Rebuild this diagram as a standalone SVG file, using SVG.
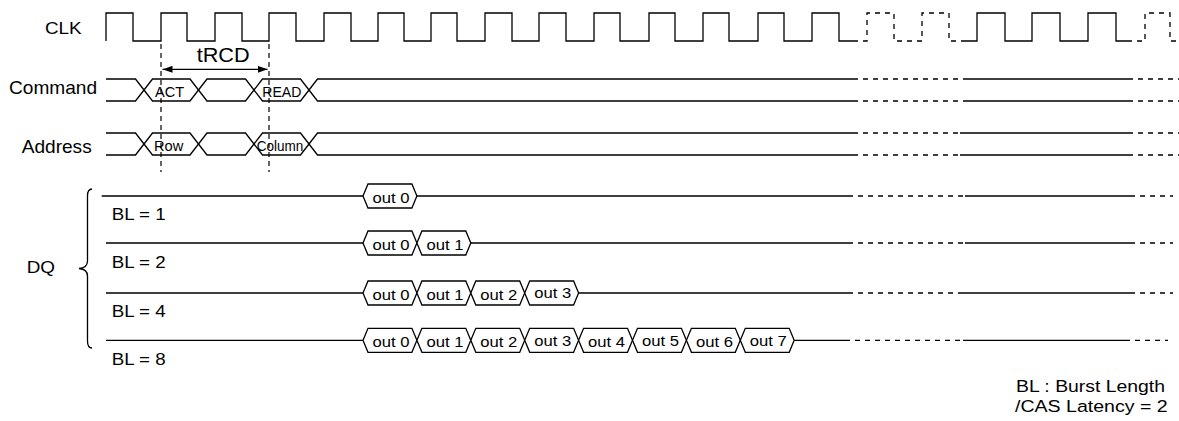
<svg xmlns="http://www.w3.org/2000/svg" width="1179" height="421" viewBox="0 0 1179 421">
<style>
.s{fill:none;stroke:#000;stroke-width:1.3}
.d{fill:none;stroke:#000;stroke-width:1.3;stroke-dasharray:5 5}
.c{fill:#fff;stroke:#000;stroke-width:1.3}
.vd{fill:none;stroke:#000;stroke-width:1.2;stroke-dasharray:5 4}
text{font-family:"Liberation Sans",Arial,sans-serif;fill:#000}
.o{font-size:15.5px}
</style>
<defs>
<marker id="ah" viewBox="0 0 10 7" refX="10" refY="3.5" markerWidth="10" markerHeight="7" markerUnits="userSpaceOnUse" orient="auto-start-reverse">
<path d="M0,0 L10,3.5 L0,7 z" fill="#000"/>
</marker>
</defs>
<rect width="1179" height="421" fill="#fff"/>

<g id="clk">
<text x="45" y="34.3" font-size="17" textLength="36.7" lengthAdjust="spacingAndGlyphs">CLK</text>
<path class="s" d="M106,41 V13 H133 V41 H161 V13 H187 V41 H215 V13 H242 V41 H269 V13 H296 V41 H324 V13 H351 V41 H378 V13 H404 V41 H431 V13 H457 V41 H485 V13 H512 V41 H539 V13 H566 V41 H594 V13 H620 V41 H649 V13 H675 V41 H703 V13 H729 V41 H758 V13 H784 V41 H812 V13 H839 V41 H853"/>
<path class="d" d="M853,41 H867 V13 H894 V41 H922 V13 H949 V41 H966"/>
<path class="s" d="M966,41 H977 V13 H1005 V41 H1032 V13 H1060 V41 H1088 V13 H1116 V41 H1127"/>
<path class="d" d="M1127,41 H1145 V13 H1170 V41 H1179"/>
</g>

<g id="command">
<text x="9" y="94.3" font-size="18.5" textLength="88" lengthAdjust="spacingAndGlyphs">Command</text>
<path class="s" d="M106,79 H135.5 L152.5,101 H190 L207,79 H245.5 L262.5,101 H300.5 L317.5,79 H853"/>
<path class="s" d="M106,101 H135.5 L152.5,79 H190 L207,101 H245.5 L262.5,79 H300.5 L317.5,101 H853"/>
<path class="d" d="M853,79 H965 M853,101 H965"/>
<path class="s" d="M965,79 H1128 M965,101 H1128"/>
<path class="d" d="M1128,79 H1179 M1128,101 H1179"/>
<text x="155" y="97.3" font-size="14.5" textLength="29" lengthAdjust="spacingAndGlyphs">ACT</text>
<text x="262.3" y="97.3" font-size="14.5" textLength="39" lengthAdjust="spacingAndGlyphs">READ</text>
</g>

<g id="address">
<text x="21.7" y="152.7" font-size="18.5" textLength="70" lengthAdjust="spacingAndGlyphs">Address</text>
<path class="s" d="M106,133 H135.5 L152.5,155 H190 L207,133 H245.5 L262.5,155 H300.5 L317.5,133 H853"/>
<path class="s" d="M106,155 H135.5 L152.5,133 H190 L207,155 H245.5 L262.5,133 H300.5 L317.5,155 H853"/>
<path class="d" d="M853,133 H960 M853,155 H960"/>
<path class="s" d="M960,133 H1128 M960,155 H1128"/>
<path class="d" d="M1128,133 H1179 M1128,155 H1179"/>
<text x="154" y="150.7" font-size="14" textLength="29.3" lengthAdjust="spacingAndGlyphs">Row</text>
<text x="256.7" y="150.7" font-size="14" textLength="46.6" lengthAdjust="spacingAndGlyphs">Column</text>
</g>

<g id="dq-label">
<text x="26.7" y="273.3" font-size="16.5" textLength="28.3" lengthAdjust="spacingAndGlyphs">DQ</text>
<path class="s" d="M92,189 C88.5,189 87.5,191.5 87.5,196 L87.5,261 C87.5,265.5 85,268 79,268.5 C85,269 87.5,271.5 87.5,276 L87.5,341 C87.5,345.5 88.5,348 92,348"/>
</g>

<g id="dq-bl1">
<text x="111.7" y="220" font-size="16.5" textLength="54" lengthAdjust="spacingAndGlyphs">BL = 1</text>
<path class="s" d="M101.7,196 H363 M416.9,196 H848"/>
<path class="d" d="M848,196 H965"/>
<path class="s" d="M965,196 H1130"/>
<path class="d" d="M1130,196 H1173"/>
<path class="c" d="M363,196 L368,184 H411.9 L416.9,196 L411.9,208 H368 Z"/>
<text class="o" x="372.5" y="202.7" textLength="37" lengthAdjust="spacingAndGlyphs">out 0</text>
</g>

<g id="dq-bl2">
<text x="111.7" y="268.3" font-size="16.5" textLength="54" lengthAdjust="spacingAndGlyphs">BL = 2</text>
<path class="s" d="M106,243 H363 M470.8,243 H848"/>
<path class="d" d="M848,243 H965"/>
<path class="s" d="M965,243 H1130"/>
<path class="d" d="M1130,243 H1173"/>
<path class="c" d="M363,243 L368,231 H411.9 L416.9,243 L411.9,255 H368 Z"/>
<path class="c" d="M416.9,243 L421.9,231 H465.8 L470.8,243 L465.8,255 H421.9 Z"/>
<text class="o" x="372.5" y="249.7" textLength="37" lengthAdjust="spacingAndGlyphs">out 0</text>
<text class="o" x="426.4" y="249.7" textLength="37" lengthAdjust="spacingAndGlyphs">out 1</text>
</g>

<g id="dq-bl4">
<text x="111.7" y="316.7" font-size="16.5" textLength="54" lengthAdjust="spacingAndGlyphs">BL = 4</text>
<path class="s" d="M106,293 H363 M578.6,293 H848"/>
<path class="d" d="M848,293 H962"/>
<path class="s" d="M962,293 H1130"/>
<path class="d" d="M1130,293 H1173"/>
<path class="c" d="M363,293 L368,281 H411.9 L416.9,293 L411.9,305 H368 Z"/>
<path class="c" d="M416.9,293 L421.9,281 H465.8 L470.8,293 L465.8,305 H421.9 Z"/>
<path class="c" d="M470.8,293 L475.8,281 H519.7 L524.7,293 L519.7,305 H475.8 Z"/>
<path class="c" d="M524.7,293 L529.7,281 H573.6 L578.6,293 L573.6,305 H529.7 Z"/>
<text class="o" x="372.5" y="299.7" textLength="37" lengthAdjust="spacingAndGlyphs">out 0</text>
<text class="o" x="426.4" y="299.7" textLength="37" lengthAdjust="spacingAndGlyphs">out 1</text>
<text class="o" x="480.3" y="299.7" textLength="37" lengthAdjust="spacingAndGlyphs">out 2</text>
<text class="o" x="534.2" y="298.2" textLength="37" lengthAdjust="spacingAndGlyphs">out 3</text>
</g>

<g id="dq-bl8">
<text x="111.7" y="365" font-size="16.5" textLength="54" lengthAdjust="spacingAndGlyphs">BL = 8</text>
<path class="s" d="M106,340.3 H363 M794.2,340.3 H845"/>
<path class="d" d="M845,340.3 H963"/>
<path class="s" d="M963,340.3 H1125"/>
<path class="d" d="M1125,340.3 H1168"/>
<path class="c" d="M363,340.3 L368,328.3 H411.9 L416.9,340.3 L411.9,352.3 H368 Z"/>
<path class="c" d="M416.9,340.3 L421.9,328.3 H465.8 L470.8,340.3 L465.8,352.3 H421.9 Z"/>
<path class="c" d="M470.8,340.3 L475.8,328.3 H519.7 L524.7,340.3 L519.7,352.3 H475.8 Z"/>
<path class="c" d="M524.7,340.3 L529.7,328.3 H573.6 L578.6,340.3 L573.6,352.3 H529.7 Z"/>
<path class="c" d="M578.6,340.3 L583.6,328.3 H627.5 L632.5,340.3 L627.5,352.3 H583.6 Z"/>
<path class="c" d="M632.5,340.3 L637.5,328.3 H681.4 L686.4,340.3 L681.4,352.3 H637.5 Z"/>
<path class="c" d="M686.4,340.3 L691.4,328.3 H735.3 L740.3,340.3 L735.3,352.3 H691.4 Z"/>
<path class="c" d="M740.3,340.3 L745.3,328.3 H789.2 L794.2,340.3 L789.2,352.3 H745.3 Z"/>
<text class="o" x="372.5" y="347" textLength="37" lengthAdjust="spacingAndGlyphs">out 0</text>
<text class="o" x="426.4" y="347" textLength="37" lengthAdjust="spacingAndGlyphs">out 1</text>
<text class="o" x="480.3" y="347" textLength="37" lengthAdjust="spacingAndGlyphs">out 2</text>
<text class="o" x="534.2" y="345.5" textLength="37" lengthAdjust="spacingAndGlyphs">out 3</text>
<text class="o" x="588.1" y="347" textLength="37" lengthAdjust="spacingAndGlyphs">out 4</text>
<text class="o" x="642" y="346" textLength="37" lengthAdjust="spacingAndGlyphs">out 5</text>
<text class="o" x="695.9" y="347" textLength="37" lengthAdjust="spacingAndGlyphs">out 6</text>
<text class="o" x="749.8" y="346" textLength="37" lengthAdjust="spacingAndGlyphs">out 7</text>
</g>

<g id="connectors">
<path class="vd" d="M161,44 V172 M269,44 V172"/>
<line x1="162.5" y1="69.3" x2="267.5" y2="69.3" stroke="#000" stroke-width="1.3" marker-start="url(#ah)" marker-end="url(#ah)"/>
<text x="196.7" y="62.3" font-size="19.5" textLength="53" lengthAdjust="spacingAndGlyphs">tRCD</text>
</g>

<g id="legend">
<text x="1016" y="391.5" font-size="16.3" textLength="149" lengthAdjust="spacingAndGlyphs">BL : Burst Length</text>
<text x="1015" y="411.5" font-size="16.3" textLength="152.7" lengthAdjust="spacingAndGlyphs">/CAS Latency = 2</text>
</g>
</svg>
